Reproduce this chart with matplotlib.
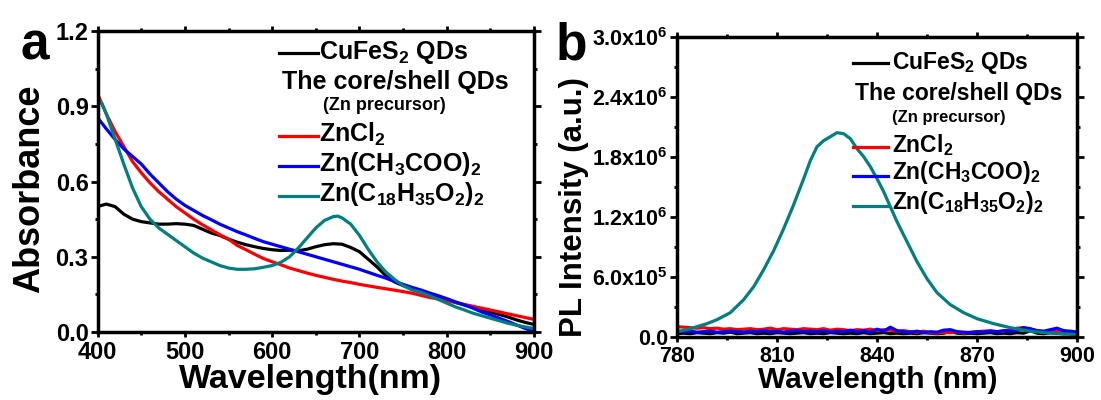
import numpy as np
import matplotlib
matplotlib.use("Agg")
import matplotlib.pyplot as plt
from matplotlib.ticker import MultipleLocator, FuncFormatter

plt.rcParams['font.family'] = ['Liberation Sans', 'DejaVu Sans']
plt.rcParams['font.weight'] = 'bold'
plt.rcParams['mathtext.fontset'] = 'custom'
plt.rcParams['mathtext.rm'] = 'Liberation Sans:bold'
plt.rcParams['mathtext.bf'] = 'Liberation Sans:bold'
plt.rcParams['mathtext.it'] = 'Liberation Sans:bold'
plt.rcParams['mathtext.sf'] = 'Liberation Sans:bold'
plt.rcParams['mathtext.default'] = 'rm'

# ---------------- Panel a: absorbance ----------------
wl_black = [400, 410, 420, 430, 440, 450, 460, 470, 480, 490, 500, 510, 520, 530, 540, 550,
            560, 570, 580, 590, 600, 610, 620, 630, 640, 650, 660, 670, 680, 690, 700, 710,
            720, 730, 740, 750, 760, 770, 780, 790, 800, 810, 820, 830, 840, 850, 860, 870,
            880, 890, 900]
abs_black = [0.50, 0.51, 0.50, 0.47, 0.45, 0.44, 0.435, 0.43, 0.43, 0.432, 0.43, 0.425, 0.41,
             0.395, 0.385, 0.37, 0.358, 0.348, 0.34, 0.333, 0.328, 0.325, 0.326, 0.324, 0.33,
             0.34, 0.348, 0.352, 0.35, 0.337, 0.32, 0.29, 0.26, 0.225, 0.20, 0.185, 0.172,
             0.16, 0.15, 0.14, 0.13, 0.118, 0.108, 0.10, 0.09, 0.08, 0.07, 0.06, 0.048,
             0.038, 0.03]

wl_red = [400, 410, 420, 430, 440, 450, 460, 470, 480, 490, 500, 510, 520, 530, 540, 550, 560,
          570, 580, 590, 600, 610, 620, 630, 640, 650, 660, 670, 680, 690, 700, 720, 740, 760,
          780, 800, 820, 840, 860, 880, 900]
abs_red = [0.95, 0.87, 0.80, 0.74, 0.68, 0.635, 0.595, 0.56, 0.53, 0.50, 0.475, 0.45, 0.428,
           0.408, 0.388, 0.37, 0.345, 0.328, 0.31, 0.293, 0.28, 0.268, 0.255, 0.245, 0.235,
           0.226, 0.218, 0.21, 0.203, 0.197, 0.19, 0.178, 0.167, 0.155, 0.138, 0.125, 0.11,
           0.095, 0.08, 0.065, 0.05]

wl_blue = [400, 410, 420, 430, 440, 450, 460, 470, 480, 490, 500, 510, 520, 530, 540, 550,
           560, 570, 580, 590, 600, 610, 620, 630, 640, 650, 660, 670, 680, 690, 700, 710,
           720, 730, 740, 750, 760, 770, 780, 790, 800, 810, 820, 830, 840, 850, 860, 870,
           880, 890, 900]
abs_blue = [0.855, 0.81, 0.768, 0.73, 0.70, 0.67, 0.63, 0.595, 0.56, 0.53, 0.505, 0.485, 0.465,
            0.448, 0.43, 0.415, 0.40, 0.387, 0.373, 0.36, 0.35, 0.34, 0.33, 0.32, 0.31, 0.30,
            0.29, 0.28, 0.27, 0.26, 0.25, 0.238, 0.226, 0.215, 0.202, 0.19, 0.178, 0.168,
            0.156, 0.145, 0.133, 0.12, 0.108, 0.095, 0.08, 0.068, 0.055, 0.042, 0.028, 0.014,
            0.003]

wl_teal = [400, 405, 410, 420, 430, 440, 450, 460, 470, 480, 490, 500, 510, 520, 530, 540, 550,
           560, 570, 580, 590, 600, 610, 620, 630, 640, 650, 660, 670, 675, 680, 690, 700, 710,
           720, 730, 740, 750, 760, 770, 780, 790, 800, 810, 820, 830, 840, 850, 860, 870, 880,
           890, 900]
abs_teal = [0.93, 0.91, 0.87, 0.77, 0.67, 0.575, 0.50, 0.45, 0.415, 0.39, 0.365, 0.34, 0.315,
            0.295, 0.28, 0.265, 0.255, 0.25, 0.25, 0.252, 0.258, 0.265, 0.278, 0.30, 0.335,
            0.375, 0.415, 0.445, 0.46, 0.462, 0.455, 0.43, 0.385, 0.33, 0.28, 0.24, 0.21,
            0.185, 0.168, 0.158, 0.145, 0.13, 0.115, 0.10, 0.088, 0.075, 0.065, 0.055, 0.045,
            0.035, 0.027, 0.02, 0.014]

# ---------------- Panel b: PL intensity ----------------
pl_red = [1.0, 0.95, 0.9, 0.85, 0.9, 0.8, 0.85, 0.75, 0.8, 0.7, 0.75, 0.8, 0.7, 0.75, 0.85,
          0.7, 0.8, 0.75, 0.7, 0.8, 0.75, 0.7, 0.8, 0.65, 0.75, 0.7, 0.6, 0.7, 0.65, 0.75, 0.6,
          0.7, 0.65, 0.55, 0.6, 0.5, 0.45, 0.55, 0.4, 0.35, 0.45, 0.4, 0.5, 0.35, 0.45, 0.5,
          0.55, 0.6, 0.5, 0.55, 0.7, 0.85, 0.9, 0.75, 0.6, 0.5, 0.45, 0.55, 0.4, 0.5, 0.45]
pl_blue = [0.55, 0.5, 0.55, 0.45, 0.5, 0.55, 0.45, 0.5, 0.55, 0.5, 0.45, 0.55, 0.5, 0.6, 0.5,
           0.55, 0.45, 0.55, 0.6, 0.5, 0.55, 0.5, 0.6, 0.45, 0.55, 0.5, 0.65, 0.5, 0.6, 0.45,
           0.75, 0.55, 0.95, 0.6, 0.5, 0.45, 0.55, 0.4, 0.5, 0.45, 0.65, 0.7, 0.5, 0.45, 0.4,
           0.5, 0.45, 0.55, 0.5, 0.6, 0.55, 0.65, 0.9, 0.8, 0.6, 0.55, 0.7, 0.85, 0.6, 0.55, 0.45]
pl_black = [0.3, 0.35, 0.3, 0.4, 0.35, 0.3, 0.4, 0.35, 0.45, 0.3, 0.35, 0.4, 0.3, 0.35, 0.3,
            0.4, 0.35, 0.3, 0.35, 0.4, 0.3, 0.35, 0.3, 0.4, 0.35, 0.3, 0.35, 0.3, 0.4, 0.3,
            0.35, 0.4, 0.3, 0.35, 0.3, 0.35, 0.3, 0.4, 0.35, 0.3, 0.35, 0.5, 0.35, 0.3, 0.35,
            0.3, 0.35, 0.4, 0.3, 0.35, 0.3, 0.4, 0.35, 0.6, 0.35, 0.3, 0.4, 0.35, 0.3, 0.35, 0.3]
wl_pl_teal = [780, 783, 786, 789, 792, 796, 800, 803, 806, 809, 812, 815, 818, 820, 822, 824,
              826, 828, 830, 832, 834, 836, 838, 840, 842, 844, 846, 849, 852, 855, 858, 862,
              866, 870, 875, 880, 885, 890, 895, 900]
pl_teal = [0.05, 0.07, 0.10, 0.13, 0.17, 0.24, 0.37, 0.50, 0.67, 0.86, 1.08, 1.32, 1.58, 1.76,
           1.90, 1.96, 2.00, 2.04, 2.03, 1.98, 1.88, 1.80, 1.70, 1.58, 1.45, 1.30, 1.15, 0.95,
           0.75, 0.58, 0.44, 0.32, 0.24, 0.18, 0.13, 0.09, 0.06, 0.04, 0.03, 0.02]

legend_labels = ['CuFeS$_2$ QDs', 'ZnCl$_2$', 'Zn(CH$_3$COO)$_2$', 'Zn(C$_{18}$H$_{35}$O$_2$)$_2$']
colors = ['#000000', '#ff0000', '#0000ff', '#008080']

fig = plt.figure(figsize=(11.01, 4.0), dpi=100)
axA = fig.add_axes([0.0886, 0.170, 0.3965, 0.7525])
axB = fig.add_axes([0.6149, 0.1583, 0.3633, 0.750])

LW = 2.3
axA.plot(wl_black, abs_black, color=colors[0], lw=LW)
axA.plot(wl_red, abs_red, color=colors[1], lw=LW)
axA.plot(wl_blue, abs_blue, color=colors[2], lw=LW)
axA.plot(wl_teal, abs_teal, color=colors[3], lw=LW)

axB.plot(np.linspace(780, 900, len(pl_black)), np.array(pl_black) * 1e5, color=colors[0], lw=LW)
axB.plot(np.linspace(780, 900, len(pl_red)), np.array(pl_red) * 1e5, color=colors[1], lw=LW)
axB.plot(np.linspace(780, 900, len(pl_blue)), np.array(pl_blue) * 1e5, color=colors[2], lw=LW)
axB.plot(wl_pl_teal, np.array(pl_teal) * 1e6, color=colors[3], lw=LW)

axA.set_xlim(400, 900)
axA.set_ylim(0, 1.2)
axA.xaxis.set_major_locator(MultipleLocator(100))
axA.xaxis.set_minor_locator(MultipleLocator(50))
axA.yaxis.set_major_locator(MultipleLocator(0.3))
axA.yaxis.set_minor_locator(MultipleLocator(0.15))
axA.yaxis.set_major_formatter(FuncFormatter(lambda v, p: f"{v:.1f}"))

axB.set_xlim(780, 900)
axB.set_ylim(0, 3.0e6)
axB.xaxis.set_major_locator(MultipleLocator(30))
axB.xaxis.set_minor_locator(MultipleLocator(15))
axB.yaxis.set_major_locator(MultipleLocator(0.6e6))
axB.yaxis.set_minor_locator(MultipleLocator(0.3e6))


def sci(v, p):
    if abs(v) < 1e-9:
        return "0.0"
    e = int(np.floor(np.log10(abs(v))))
    m = v / 10 ** e
    return f"{m:.1f}x10$^{{{e}}}$"


axB.yaxis.set_major_formatter(FuncFormatter(sci))

for ax, tsize in ((axA, 17), (axB, 15.5)):
    for s in ax.spines.values():
        s.set_linewidth(2.5)
    ax.tick_params(axis='both', which='both', direction='out', width=2.0,
                   top=True, right=True)
    ax.tick_params(axis='y', which='major', length=5, pad=1.5, labelsize=tsize)
    ax.tick_params(axis='x', which='major', length=3.5, pad=3, labelsize=tsize)
    ax.tick_params(axis='both', which='minor', length=2.5)
    ax.tick_params(axis='both', which='both', labeltop=False, labelright=False)
    for lab in ax.get_xticklabels() + ax.get_yticklabels():
        lab.set_fontweight('bold')

# axis labels
fig.text(0.2816, 0.029, 'Wavelength(nm)', fontsize=24.5, fontweight='bold',
         ha='center', va='baseline')
fig.text(0.7975, 0.029, 'Wavelength (nm)', fontsize=21.5, fontweight='bold',
         ha='center', va='baseline')
fig.text(0.0268, 0.529, 'Absorbance', fontsize=26, fontweight='bold', rotation=90,
         ha='center', va='center')
fig.text(0.521, 0.4825, 'PL Intensity (a.u.)', fontsize=22.5, fontweight='bold', rotation=90,
         ha='center', va='center')

# panel letters
fig.text(0.019, 0.85, 'a', fontsize=37, fontweight='bold', ha='left', va='baseline')
fig.text(0.505, 0.85, 'b', fontsize=37, fontweight='bold', ha='left', va='baseline')


def draw_legend(ax, x_line0, x_line1, x_text, x_head, x_sub, y_rows, y_lines, fs, fs_sub):
    ax.text(x_text, y_rows[0], legend_labels[0], transform=ax.transAxes, fontsize=fs,
            fontweight='bold', ha='left', va='center')
    ax.plot([x_line0, x_line1], [y_lines[0]] * 2, color=colors[0], lw=LW,
            transform=ax.transAxes, clip_on=False)
    ax.text(x_head, y_rows[1], 'The core/shell QDs', transform=ax.transAxes, fontsize=fs,
            fontweight='bold', ha='left', va='center')
    ax.text(x_sub, y_rows[2], '(Zn precursor)', transform=ax.transAxes, fontsize=fs_sub,
            fontweight='bold', ha='left', va='center')
    for i in range(1, 4):
        ax.text(x_text, y_rows[i + 2], legend_labels[i], transform=ax.transAxes, fontsize=fs,
                fontweight='bold', ha='left', va='center')
        ax.plot([x_line0, x_line1], [y_lines[i]] * 2, color=colors[i], lw=LW,
                transform=ax.transAxes, clip_on=False)


draw_legend(axA, 0.415, 0.505, 0.508, 0.423, 0.517,
            [0.930, 0.8316, 0.751, 0.658, 0.558, 0.458],
            [0.926, 0.651, 0.551, 0.451], 18, 13)
draw_legend(axB, 0.440, 0.527, 0.5375, 0.445, 0.5375,
            [0.912, 0.812, 0.729, 0.639, 0.546, 0.446],
            [0.911, 0.632, 0.536, 0.436], 16.5, 12)

fig.savefig('out.png', dpi=100)
